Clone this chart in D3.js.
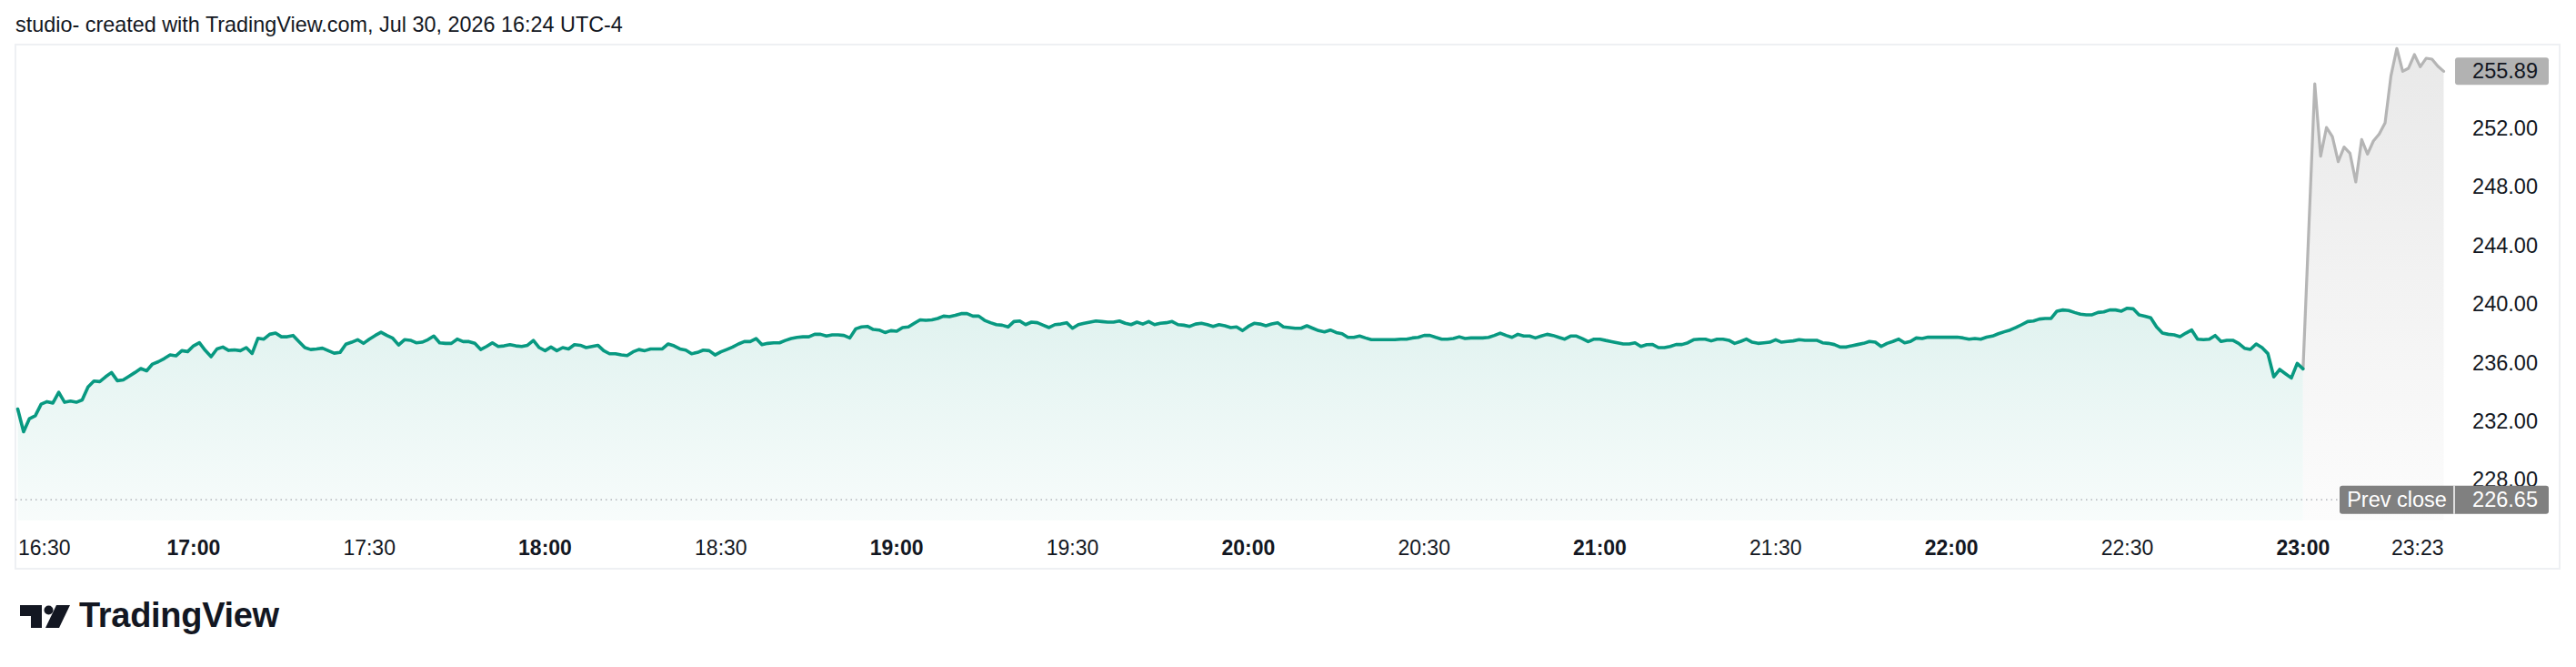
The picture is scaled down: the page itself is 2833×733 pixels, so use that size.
<!DOCTYPE html>
<html><head><meta charset="utf-8">
<script src="https://cdn.jsdelivr.net/npm/d3@7"></script>
<style>html,body{margin:0;padding:0;background:#fff;}svg{display:block}</style>
</head><body>
<svg id="c" width="2833" height="733"></svg>
<script>
// ---------------- DATA ----------------
const title = "studio- created with TradingView.com, Jul 30, 2026 16:24 UTC-4";
// 1-minute closes, regular part of session, starting 16:30 (minute 0) through 23:00 (minute 390)
const regularValues = [
232.84,231.29,232.18,232.38,233.17,233.34,233.25,233.98,233.30,233.38,
233.30,233.46,234.35,234.75,234.71,235.04,235.33,234.77,234.83,235.08,
235.33,235.60,235.45,235.91,236.07,236.28,236.53,236.47,236.82,236.76,
237.15,237.36,236.84,236.41,236.94,237.07,236.84,236.88,236.82,237.03,
236.63,237.67,237.61,237.94,238.02,237.77,237.77,237.86,237.44,237.03,
236.90,236.94,236.99,236.82,236.65,236.70,237.26,237.40,237.57,237.32,
237.61,237.86,238.08,237.86,237.67,237.21,237.57,237.53,237.36,
237.40,237.57,237.82,237.36,237.32,237.32,237.61,237.44,237.44,237.32,
236.90,237.11,237.36,237.11,237.15,237.23,237.15,237.11,237.19,237.52,
237.03,236.82,237.07,236.82,237.03,236.94,237.23,237.19,237.03,237.11,
237.19,236.82,236.61,236.61,236.53,236.49,236.74,236.90,236.82,236.94,
236.94,236.94,237.28,237.15,236.94,236.86,236.61,236.70,236.86,236.82,
236.53,236.74,236.90,237.07,237.28,237.44,237.44,237.65,237.23,237.32,
237.36,237.36,237.52,237.65,237.73,237.77,237.77,237.94,237.94,237.82,
237.90,237.90,237.86,237.69,238.31,238.44,238.48,238.27,238.23,238.06,
238.19,238.15,238.40,238.44,238.69,238.93,238.89,238.93,239.02,239.18,
239.14,239.23,239.35,239.35,239.18,239.18,238.89,238.73,238.60,238.56,
238.44,238.81,238.85,238.60,238.77,238.73,238.56,238.40,238.60,238.64,
238.73,238.35,238.60,238.69,238.77,238.85,238.81,238.77,238.77,238.85,
238.69,238.60,238.77,238.64,238.81,238.60,238.69,238.73,238.81,238.60,
238.56,238.48,238.64,238.69,238.60,238.48,238.60,238.52,238.40,238.44,
238.19,238.48,238.69,238.64,238.52,238.64,238.73,238.44,238.40,238.35,
238.35,238.52,238.35,238.19,238.10,238.23,238.06,237.98,237.73,237.73,
237.82,237.69,237.57,237.57,237.57,237.57,237.57,237.61,237.61,237.69,
237.73,237.86,237.86,237.73,237.61,237.61,237.65,237.77,237.65,237.69,
237.69,237.69,237.73,237.86,238.02,237.86,237.73,237.94,237.82,237.82,
237.69,237.82,237.94,237.86,237.73,237.61,237.82,237.82,237.65,237.44,
237.61,237.61,237.52,237.44,237.36,237.28,237.28,237.36,237.11,237.23,
237.24,237.03,237.03,237.11,237.24,237.24,237.36,237.57,237.61,237.61,
237.49,237.61,237.61,237.53,237.32,237.45,237.61,237.40,237.32,237.36,
237.40,237.57,237.40,237.45,237.49,237.57,237.53,237.53,237.53,237.36,
237.32,237.24,237.07,237.07,237.16,237.24,237.32,237.45,237.40,237.11,
237.32,237.45,237.61,237.36,237.45,237.69,237.65,237.74,237.74,237.74,
237.74,237.74,237.74,237.69,237.61,237.65,237.61,237.74,237.82,237.98,
238.11,238.23,238.40,238.60,238.81,238.85,238.98,239.02,
239.02,239.52,239.60,239.56,239.43,239.31,239.27,239.27,239.43,239.47,
239.60,239.60,239.52,239.72,239.68,239.27,239.18,239.06,238.44,238.02,
237.94,237.90,237.78,238.02,238.23,237.61,237.57,237.61,237.86,237.45,
237.53,237.53,237.32,236.99,236.91,237.28,237.03,236.62,235.04,235.54,
235.25,234.96,235.95,235.58
];
// extended part (after 23:00), minutes since 16:30
const extendedMinutes = [392,393,394,395,396,397,398,399,400,401,402,403,404,405,406,407,408,409,410,411,412,413,414];
const extendedValues = [255.04,250.10,252.06,251.44,249.72,250.72,250.30,248.34,251.23,250.24,251.13,251.61,252.37,255.58,257.45,255.89,256.10,257.03,256.20,256.78,256.72,256.24,255.89];

const timeTickMinutes = [0,30,60,90,120,150,180,210,240,270,300,330,360,390,413];
const timeTickLabels = ["16:30","17:00","17:30","18:00","18:30","19:00","19:30","20:00","20:30","21:00","21:30","22:00","22:30","23:00","23:23"];
const timeTickBold = [false,true,false,true,false,true,false,true,false,true,false,true,false,true,false];
const priceTicks = [228,232,236,240,244,248,252];
const lastPrice = 255.89;
const prevClose = 226.65;
const prevCloseLabel = "Prev close";
const brandName = "TradingView";

// ---------------- LAYOUT ----------------
const svg = d3.select("#c");
const frame = {x0:17, y0:49, x1:2815, y1:625};
const paneBottom = 572;
const ink = "#131722";
const green = "#089981";
const grayLine = "#b5b5b5";
const font = "'Liberation Sans', Arial, sans-serif";

const x = d3.scaleLinear().domain([0, 414]).range([19.5, 2687.5]);
const y = d3.scaleLinear().domain([228, 256]).range([527.4, 76.6]);

const defs = svg.append("defs");
const gG = defs.append("linearGradient").attr("id","gG").attr("gradientUnits","userSpaceOnUse")
  .attr("x1",0).attr("x2",0).attr("y1",330).attr("y2",paneBottom);
gG.append("stop").attr("offset",0).attr("stop-color",green).attr("stop-opacity",0.13);
gG.append("stop").attr("offset",1).attr("stop-color",green).attr("stop-opacity",0.03);
const gX = defs.append("linearGradient").attr("id","gX").attr("gradientUnits","userSpaceOnUse")
  .attr("x1",0).attr("x2",0).attr("y1",60).attr("y2",paneBottom);
gX.append("stop").attr("offset",0).attr("stop-color","#e9e9e9");
gX.append("stop").attr("offset",1).attr("stop-color","#fcfcfc");

// title
svg.append("text").attr("x",17).attr("y",27).attr("dominant-baseline","central")
  .attr("font-family",font).attr("font-size",23.4).attr("fill",ink).text(title);

// frame
svg.append("rect").attr("x",frame.x0).attr("y",frame.y0)
  .attr("width",frame.x1-frame.x0).attr("height",frame.y1-frame.y0)
  .attr("fill","none").attr("stroke","#eef0f3").attr("stroke-width",2);

// data
const reg = regularValues.map((v,i)=>({m:i, v}));
const lastReg = reg[reg.length-1];
const ext = [lastReg].concat(extendedMinutes.map((m,i)=>({m, v:extendedValues[i]})));

const area = d3.area().x(d=>x(d.m)).y0(paneBottom).y1(d=>y(d.v));
const line = d3.line().x(d=>x(d.m)).y(d=>y(d.v));

svg.append("path").datum(reg).attr("d",area).attr("fill","url(#gG)");
svg.append("path").datum(ext).attr("d",area).attr("fill","url(#gX)");

// prev close dotted line
const yPC = y(prevClose);
svg.append("line").attr("x1",frame.x0).attr("x2",2573).attr("y1",yPC).attr("y2",yPC)
  .attr("stroke","#a3a6ad").attr("stroke-width",1.2).attr("stroke-dasharray","1.5,4");

svg.append("path").datum(ext).attr("d",line).attr("fill","none")
  .attr("stroke",grayLine).attr("stroke-width",3.2).attr("stroke-linejoin","round").attr("stroke-linecap","round");
svg.append("path").datum(reg).attr("d",line).attr("fill","none")
  .attr("stroke",green).attr("stroke-width",3.6).attr("stroke-linejoin","round").attr("stroke-linecap","round");

// price axis labels
const axR = 2791;
svg.append("g").selectAll("text").data(priceTicks).join("text")
  .attr("x",axR).attr("y",d=>y(d)).attr("text-anchor","end").attr("dominant-baseline","central")
  .attr("font-family",font).attr("font-size",23.5).attr("fill",ink).text(d=>d.toFixed(2));

// last price box
svg.append("rect").attr("x",2700).attr("y",y(lastPrice)-15).attr("width",103).attr("height",30)
  .attr("rx",3).attr("fill","#b2b2b2");
svg.append("text").attr("x",axR).attr("y",y(lastPrice)).attr("text-anchor","end").attr("dominant-baseline","central")
  .attr("font-family",font).attr("font-size",23.5).attr("fill",ink).text(lastPrice.toFixed(2));

// prev close box
svg.append("rect").attr("x",2573).attr("y",yPC-15.5).attr("width",230).attr("height",31)
  .attr("rx",3).attr("fill","#808080");
svg.append("line").attr("x1",2699).attr("x2",2699).attr("y1",yPC-15.5).attr("y2",yPC+15.5)
  .attr("stroke","#ffffff").attr("stroke-width",1.5);
svg.append("text").attr("x",2636).attr("y",yPC).attr("text-anchor","middle").attr("dominant-baseline","central")
  .attr("font-family",font).attr("font-size",23.5).attr("fill","#ffffff").text(prevCloseLabel);
svg.append("text").attr("x",axR).attr("y",yPC).attr("text-anchor","end").attr("dominant-baseline","central")
  .attr("font-family",font).attr("font-size",23.5).attr("fill","#ffffff").text(prevClose.toFixed(2));

// time axis
const tg = svg.append("g");
const lastX = x(extendedMinutes[extendedMinutes.length-1]);
timeTickMinutes.forEach((m,i)=>{
  const t = tg.append("text").attr("y",602).attr("dominant-baseline","central").attr("text-anchor","middle")
    .attr("font-family",font).attr("font-size",23).attr("font-weight",timeTickBold[i]?"bold":"normal")
    .attr("fill",ink).text(timeTickLabels[i]);
  const w = t.node().getComputedTextLength();
  let cx = x(m);
  cx = Math.max(cx, frame.x0 + 3 + w/2);
  cx = Math.min(cx, lastX - w/2);
  t.attr("x",cx);
});

// TradingView logo
const lg = svg.append("g").attr("fill",ink);
lg.append("path").attr("d","M22,665 H46 V690 H34 V677 H22 Z");
lg.append("circle").attr("cx",53.5).attr("cy",670.5).attr("r",5);
lg.append("path").attr("d","M62,665 H77 L65,690 H50 Z");
lg.append("text").attr("x",87).attr("y",689).attr("font-family",font).attr("font-weight","bold")
  .attr("font-size",38).attr("letter-spacing",-0.3).text(brandName);
</script>
</body></html>
